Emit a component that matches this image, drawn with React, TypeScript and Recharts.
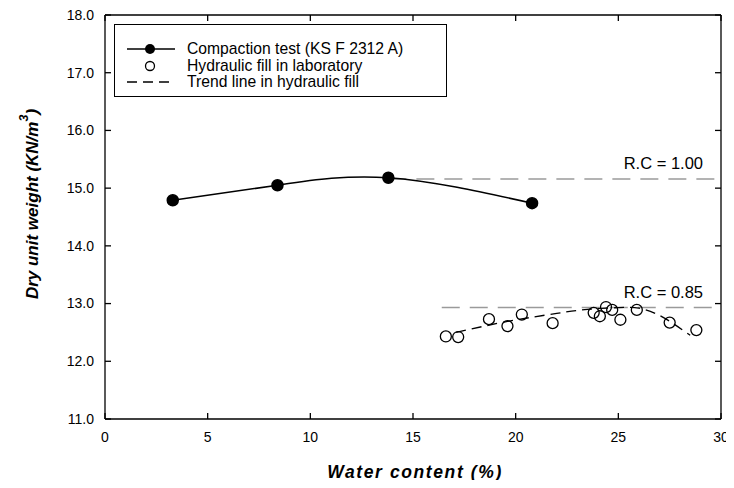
import { ComposedChart, Line, Scatter, XAxis, YAxis, ReferenceLine, Legend } from 'recharts';

// compaction test (KS F 2312 A)
const compactionX = [3.3, 8.4, 13.8, 20.8];
const compactionY = [14.79, 15.05, 15.18, 14.74];

// hydraulic fill in laboratory
const fillX = [16.6, 17.2, 18.7, 19.6, 20.3, 21.8, 23.8, 24.1, 24.4, 24.7, 25.1, 25.9, 27.5, 28.8];
const fillY = [12.43, 12.42, 12.73, 12.61, 12.81, 12.66, 12.84, 12.78, 12.94, 12.89, 12.72, 12.89, 12.67, 12.54];

// trend line in hydraulic fill
const trendX = [17.1, 19.6, 22, 23.5, 25, 26, 26.8, 27.6, 28.5];
const trendY = [12.5, 12.69, 12.83, 12.9, 12.93, 12.92, 12.83, 12.67, 12.45];

// relative compaction lines
const rcLabels = ['R.C = 1.00', 'R.C = 0.85'];
const rcStartX = [13.8, 16.4];
const rcY = [15.16, 12.93];

const xTicks = [0, 5, 10, 15, 20, 25, 30];
const yTicks = [11, 12, 13, 14, 15, 16, 17, 18];

const legendItems = ['Compaction test (KS F 2312 A)', 'Hydraulic fill in laboratory', 'Trend line in hydraulic fill'];

const zip = (xs: number[], ys: number[]) => xs.map((x, i) => ({ x, y: ys[i] }));

const compactionData = zip(compactionX, compactionY);
const fillData = zip(fillX, fillY);
const trendData = zip(trendX, trendY);

const font = '"Liberation Sans", Arial, sans-serif';
const TICK = 6;

// inward tick marks, drawn by hand since tickSize can't go negative
const makeTick = (side: 'left' | 'right' | 'top' | 'bottom', fmt?: (v: number) => string) => (props: any) => {
  const { x, y, payload } = props;
  let x2 = x;
  let y2 = y;
  if (side === 'left') x2 = x + TICK;
  if (side === 'right') x2 = x - TICK;
  if (side === 'top') y2 = y + TICK;
  if (side === 'bottom') y2 = y - TICK;
  let label = null;
  if (fmt && side === 'left')
    label = (
      <text x={x - 11} y={y} dy="0.35em" textAnchor="end" fontSize={14} fontFamily={font} fill="#000">
        {fmt(payload.value)}
      </text>
    );
  if (fmt && side === 'bottom')
    label = (
      <text x={x} y={y + 23} textAnchor="middle" fontSize={14} fontFamily={font} fill="#000">
        {fmt(payload.value)}
      </text>
    );
  return (
    <g>
      <path d={`M${x},${y}L${x2},${y2}`} stroke="#000" strokeWidth={1.3} fill="none" />
      {label}
    </g>
  );
};

function OpenCircle(props: any) {
  return <circle cx={props.cx} cy={props.cy} r={5.5} fill="none" stroke="#000" strokeWidth={1.3} />;
}

function LegendBox() {
  const row = { height: 16.5, display: 'flex', alignItems: 'center' } as const;
  const symbols = [
    <svg width={60} height={14} key="a">
      <line x1={0} y1={7} x2={48} y2={7} stroke="#000" strokeWidth={1.3} />
      <circle cx={23} cy={7} r={5} fill="#000" />
    </svg>,
    <svg width={60} height={14} key="b">
      <circle cx={23} cy={7} r={4.5} fill="none" stroke="#000" strokeWidth={1.3} />
    </svg>,
    <svg width={60} height={14} key="c">
      <line x1={0} y1={7} x2={44} y2={7} stroke="#000" strokeWidth={1.3} strokeDasharray="10 6" />
    </svg>,
  ];
  return (
    <div
      style={{
        border: '1px solid #000',
        background: '#fff',
        width: 333,
        height: 73,
        boxSizing: 'border-box',
        padding: '16px 0 0 12px',
        fontFamily: font,
        fontSize: 15.7,
        lineHeight: '16.5px',
        color: '#000',
      }}
    >
      {legendItems.map((t, i) => (
        <div key={t} style={row}>
          {symbols[i]}
          <span style={{ whiteSpace: 'nowrap' }}>{t}</span>
        </div>
      ))}
    </div>
  );
}

const rcLabel = (text: string) => (props: any) => {
  const vb = props.viewBox;
  return (
    <text x={vb.x + vb.width - 18} y={vb.y - 10} textAnchor="end" fontSize={16.5} fontFamily={font} fill="#000">
      {text}
    </text>
  );
};

const yTitle = (props: any) => {
  const vb = props.viewBox;
  const cx = 32;
  const cy = vb.y + vb.height / 2 - 13;
  return (
    <text
      x={cx}
      y={cy}
      transform={`rotate(-90 ${cx} ${cy})`}
      textAnchor="middle"
      dominantBaseline="central"
      fontSize={17}
      fontWeight="bold"
      fontStyle="italic"
      fontFamily={font}
      fill="#000"
    >
      Dry unit weight (KN/m
      <tspan fontSize={12.5} dy={-8}>3</tspan>
      <tspan dy={8}>)</tspan>
    </text>
  );
};

const xTitle = (props: any) => {
  const vb = props.viewBox;
  return (
    <text
      x={vb.x + vb.width / 2 + 2}
      y={478}
      textAnchor="middle"
      fontSize={17.5}
      fontWeight="bold"
      fontStyle="italic"
      letterSpacing={1.6}
      fontFamily={font}
      fill="#000"
    >
      Water content (%)
    </text>
  );
};

export default function App() {
  return (
    <div style={{ margin: -8, background: '#fff', width: 734, height: 488 }}>
      <ComposedChart width={734} height={488} margin={{ top: 14, right: 12, bottom: 39, left: 45 }}>
        <XAxis
          xAxisId="b"
          type="number"
          dataKey="x"
          domain={[0, 30]}
          ticks={xTicks}
          tickSize={0}
          tickMargin={0}
          tickLine={false}
          height={30}
          tick={makeTick('bottom', (v) => String(v))}
          stroke="#000"
          strokeWidth={1.3}
          label={xTitle}
        />
        <XAxis
          xAxisId="t"
          orientation="top"
          type="number"
          dataKey="x"
          domain={[0, 30]}
          ticks={xTicks}
          tickSize={0}
          tickMargin={0}
          tickLine={false}
          height={1}
          tick={makeTick('top')}
          stroke="#000"
          strokeWidth={1.3}
        />
        <YAxis
          yAxisId="l"
          type="number"
          dataKey="y"
          domain={[11, 18]}
          ticks={yTicks}
          tickSize={0}
          tickMargin={0}
          tickLine={false}
          width={60}
          tick={makeTick('left', (v) => v.toFixed(1))}
          stroke="#000"
          strokeWidth={1.3}
          label={yTitle}
        />
        <YAxis
          yAxisId="r"
          orientation="right"
          type="number"
          dataKey="y"
          domain={[11, 18]}
          ticks={yTicks}
          tickSize={0}
          tickMargin={0}
          tickLine={false}
          width={1}
          tick={makeTick('right')}
          stroke="#000"
          strokeWidth={1.3}
        />
        {/* invisible series so the top and right frame axes get drawn */}
        <Line
          xAxisId="t"
          yAxisId="r"
          data={compactionData}
          dataKey="y"
          stroke="none"
          dot={false}
          activeDot={false}
          legendType="none"
          isAnimationActive={false}
        />
        {rcLabels.map((t, i) => (
          <ReferenceLine
            key={t}
            xAxisId="b"
            yAxisId="l"
            segment={[
              { x: rcStartX[i], y: rcY[i] },
              { x: 30, y: rcY[i] },
            ]}
            stroke="#9a9a9a"
            strokeWidth={1.5}
            strokeDasharray="18 10"
            label={rcLabel(t)}
          />
        ))}
        <Line
          xAxisId="b"
          yAxisId="l"
          data={compactionData}
          dataKey="y"
          type="natural"
          stroke="#000"
          strokeWidth={1.5}
          dot={{ r: 5.5, fill: '#000', stroke: '#000' }}
          isAnimationActive={false}
        />
        <Line
          xAxisId="b"
          yAxisId="l"
          data={trendData}
          dataKey="y"
          type="natural"
          stroke="#000"
          strokeWidth={1.3}
          strokeDasharray="10 6"
          dot={false}
          isAnimationActive={false}
        />
        <Scatter
          xAxisId="b"
          yAxisId="l"
          data={fillData}
          dataKey="y"
          shape={OpenCircle}
          isAnimationActive={false}
        />
        <Legend
          verticalAlign="middle"
          align="center"
          layout="horizontal"
          wrapperStyle={{ top: 24, left: 114, width: 'auto' }}
          content={() => <LegendBox />}
        />
      </ComposedChart>
    </div>
  );
}
